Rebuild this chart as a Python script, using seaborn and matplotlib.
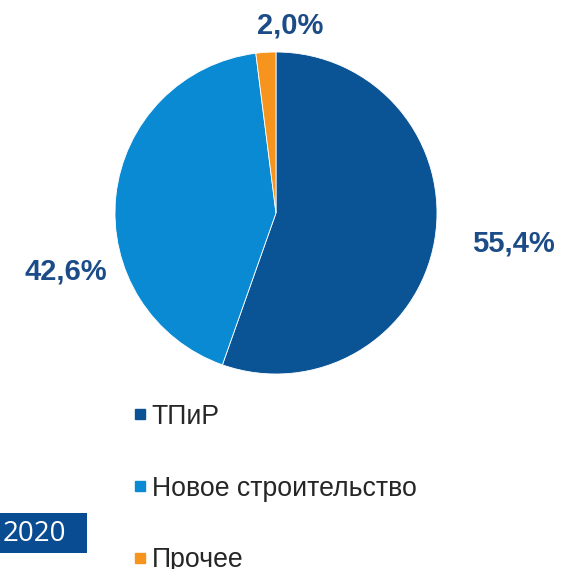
import matplotlib
matplotlib.use("Agg")
import matplotlib.pyplot as plt
from matplotlib.lines import Line2D
from matplotlib.patches import Rectangle
import seaborn as sns

sns.set_theme(style="white")
plt.rcParams['font.family'] = ['Liberation Sans', 'DejaVu Sans']

# data
categories = ["ТПиР", "Новое строительство", "Прочее"]
shares = [55.4, 42.6, 2.0]
colors = ["#0A5394", "#0A8AD2", "#F7941D"]
year = "2020"
label_color = "#1B4C88"

fig = plt.figure(figsize=(5.67, 5.69), dpi=100)
ax = fig.add_axes([0.2028, 0.3427, 0.5679, 0.5659])
wedges, _ = ax.pie(shares, colors=colors, startangle=90, counterclock=False,
                   radius=1.0, wedgeprops={'linewidth': 0.6, 'edgecolor': 'white'})
ax.set_xlim(-1, 1)
ax.set_ylim(-1, 1)
ax.set_aspect('equal')
ax.axis('off')

# percentage labels
label_pos = [(513, 243), (66, 272), (290, 25)]
for (px, py), v in zip(label_pos, shares):
    fig.text(px / 567, 1 - py / 569, f"{v:.1f}%".replace('.', ','),
             ha='center', va='center', fontsize=21, fontweight='bold',
             color=label_color)

# legend (the last entry is cut by the bottom edge, as in the original)
handles = [Line2D([], [], marker='s', linestyle='none', markersize=7.8,
                  markerfacecolor=c, markeredgecolor=c) for c in colors]
fig.legend(handles, categories, loc='upper left',
           bbox_to_anchor=(121 / 567, 1 - 393 / 569), frameon=False,
           fontsize=19.2, handlelength=0.6, handletextpad=0.15,
           labelspacing=1.72, borderaxespad=0)

# year box
fig.patches.append(Rectangle((0, 1 - 553 / 569), 87 / 567, 40 / 569,
                             transform=fig.transFigure, facecolor="#0A4C91",
                             edgecolor='none'))
fig.text(3 / 567, 1 - 534 / 569, year, ha='left', va='center', fontsize=20,
         color='white', family=['Open Sans', 'DejaVu Sans'])

fig.savefig("out.png", dpi=100)
